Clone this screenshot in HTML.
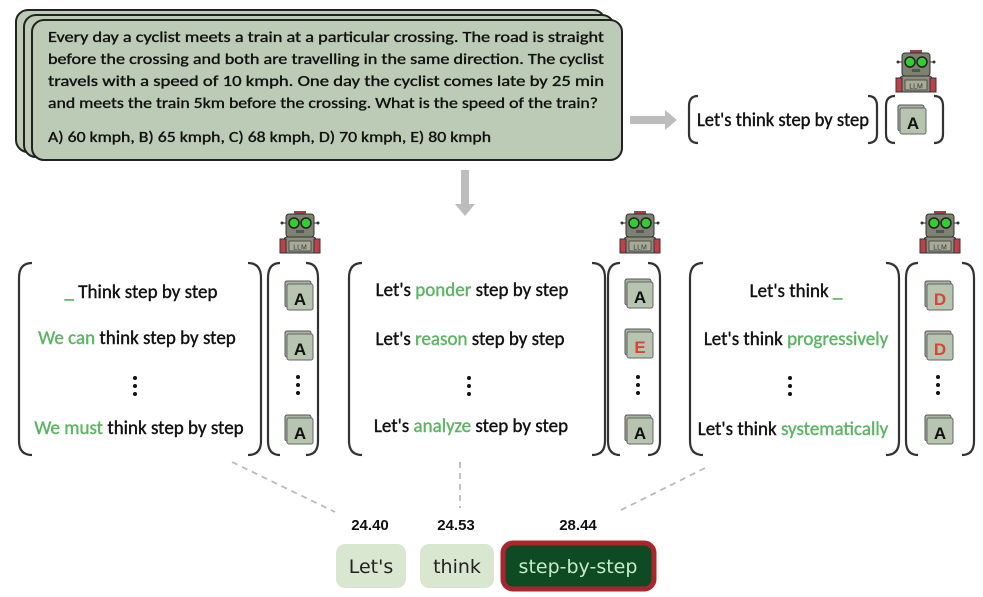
<!DOCTYPE html>
<html><head><meta charset="utf-8"><style>
html,body{margin:0;padding:0;background:#fff;}
svg{display:block;}
.q{font-family:"Carlito","Liberation Sans",sans-serif;font-size:15px;fill:#111;stroke:#111;stroke-width:0.35;}
.t{font-family:"Carlito","Liberation Sans",sans-serif;font-size:19px;fill:#111;stroke:#111;stroke-width:0.4;}
.g{fill:#5cb563;stroke:#5cb563;}
.al{font-family:"Liberation Sans",sans-serif;font-size:17px;font-weight:bold;fill:#111;}
.ar{fill:#d8443a;}
.n{font-family:"Liberation Sans",sans-serif;font-size:15px;font-weight:bold;fill:#111;}
.w{font-family:"DejaVu Sans",sans-serif;font-size:19px;}
</style></head><body>
<svg width="983" height="597" viewBox="0 0 983 597" xmlns="http://www.w3.org/2000/svg">
<defs>
  <g id="robot">
    <rect x="-16" y="26" width="32" height="16" rx="3" fill="#8e8e80" stroke="#333" stroke-width="1"/>
    <rect x="-20" y="28" width="6" height="14" fill="#c0404a" stroke="#333" stroke-width="1"/>
    <rect x="14" y="28" width="6" height="14" fill="#c0404a" stroke="#333" stroke-width="1"/>
    <rect x="-11" y="30" width="22" height="10" fill="#a7ab98" stroke="#333" stroke-width="0.7"/>
    <text x="0" y="38.5" font-family="Liberation Sans,sans-serif" font-size="7" text-anchor="middle" fill="#333">LLM</text>
    <rect x="-6" y="0" width="12" height="4" fill="#a04048"/>
    <rect x="-14" y="3" width="28" height="23" rx="3" fill="#7d8270" stroke="#333" stroke-width="1"/>
    <line x1="-18" y1="12" x2="-14" y2="12" stroke="#333"/><circle cx="-18" cy="12" r="1.5" fill="#333"/>
    <line x1="14" y1="12" x2="18" y2="12" stroke="#333"/><circle cx="18" cy="12" r="1.5" fill="#333"/>
    <circle cx="-6" cy="12" r="5" fill="#3c3" stroke="#222" stroke-width="1.5"/>
    <circle cx="6" cy="12" r="5" fill="#3c3" stroke="#222" stroke-width="1.5"/>
    <rect x="-4" y="19" width="8" height="3" fill="#555"/>
  </g>
  <g id="abox">
    <rect x="-15" y="-15" width="26" height="26" rx="2" fill="#a7b4a0" stroke="#555" stroke-width="1"/>
    <rect x="-13" y="-12" width="26" height="26" rx="2" fill="#b7c5b0" stroke="#666" stroke-width="1"/>
  </g>
</defs>

<rect x="16" y="10" width="589" height="142" rx="12" fill="#bccbb5" stroke="#222" stroke-width="2"/>
<rect x="24" y="15" width="590" height="142" rx="12" fill="#bccbb5" stroke="#222" stroke-width="2"/>
<rect x="32" y="20" width="590" height="140" rx="12" fill="#bccbb5" stroke="#222" stroke-width="2"/>
<text class="q" x="48" y="42" textLength="556" lengthAdjust="spacingAndGlyphs">Every day a cyclist meets a train at a particular crossing. The road is straight</text>
<text class="q" x="48" y="64" textLength="556" lengthAdjust="spacingAndGlyphs">before the crossing and both are travelling in the same direction. The cyclist</text>
<text class="q" x="48" y="86" textLength="556" lengthAdjust="spacingAndGlyphs">travels with a speed of 10 kmph. One day the cyclist comes late by 25 min</text>
<text class="q" x="48" y="108" textLength="550" lengthAdjust="spacingAndGlyphs">and meets the train 5km before the crossing. What is the speed of the train?</text>
<text class="q" x="48" y="142" textLength="443" lengthAdjust="spacingAndGlyphs">A) 60 kmph, B) 65 kmph, C) 68 kmph, D) 70 kmph, E) 80 kmph</text>

<polygon points="630,116 665,116 665,110 677,120 665,130 665,124 630,124" fill="#bdbdbd"/>
<polygon points="461,170 469,170 469,204 475,204 465,216 455,204 461,204" fill="#bdbdbd"/>

<g fill="none" stroke="#333" stroke-width="2.2">
  <path d="M698,96 Q689,96 689,106 V134 Q689,143 698,143"/>
  <path d="M868,96 Q877,96 877,106 V134 Q877,143 868,143"/>
  <path d="M895,96 Q886,96 886,106 V134 Q886,143 895,143"/>
  <path d="M934,96 Q943,96 943,106 V134 Q943,143 934,143"/>
  <path d="M32,263 Q19,263 19,278 V441 Q19,455 32,455"/>
  <path d="M248,263 Q261,263 261,278 V441 Q261,455 248,455"/>
  <path d="M280,263 Q268,263 268,278 V441 Q268,455 280,455"/>
  <path d="M306,263 Q318,263 318,278 V441 Q318,455 306,455"/>
  <path d="M362,263 Q349,263 349,278 V441 Q349,455 362,455"/>
  <path d="M592,263 Q605,263 605,278 V441 Q605,455 592,455"/>
  <path d="M620,263 Q608,263 608,278 V441 Q608,455 620,455"/>
  <path d="M648,263 Q660,263 660,278 V441 Q660,455 648,455"/>
  <path d="M703,263 Q690,263 690,278 V441 Q690,455 703,455"/>
  <path d="M886,263 Q899,263 899,278 V441 Q899,455 886,455"/>
  <path d="M918,263 Q906,263 906,278 V441 Q906,455 918,455"/>
  <path d="M962,263 Q974,263 974,278 V441 Q974,455 962,455"/>
</g>

<use href="#robot" x="916" y="50"/>
<use href="#robot" x="300" y="211"/>
<use href="#robot" x="640" y="211"/>
<use href="#robot" x="940" y="211"/>

<text class="t" x="697" y="126" textLength="172" lengthAdjust="spacingAndGlyphs">Let's think step by step</text>
<use href="#abox" x="913" y="120"/><text class="al" x="913" y="129" text-anchor="middle">A</text>

<text class="t" x="141" y="298" text-anchor="middle"><tspan class="g">_</tspan> Think step by step</text>
<text class="t" x="137" y="344" text-anchor="middle"><tspan class="g">We can</tspan> think step by step</text>
<text class="t" x="139" y="434" text-anchor="middle"><tspan class="g">We must</tspan> think step by step</text>
<g fill="#111"><circle cx="135" cy="378" r="2"/><circle cx="135" cy="386" r="2"/><circle cx="135" cy="394" r="2"/></g>
<use href="#abox" x="300" y="296"/><text class="al" x="300" y="305" text-anchor="middle">A</text>
<use href="#abox" x="300" y="346"/><text class="al" x="300" y="355" text-anchor="middle">A</text>
<g fill="#111"><circle cx="298" cy="377" r="2"/><circle cx="298" cy="385" r="2"/><circle cx="298" cy="393" r="2"/></g>
<use href="#abox" x="300" y="430"/><text class="al" x="300" y="439" text-anchor="middle">A</text>

<text class="t" x="472" y="296" text-anchor="middle">Let's <tspan class="g">ponder</tspan> step by step</text>
<text class="t" x="470" y="345" text-anchor="middle">Let's <tspan class="g">reason</tspan> step by step</text>
<text class="t" x="471" y="432" text-anchor="middle">Let's <tspan class="g">analyze</tspan> step by step</text>
<g fill="#111"><circle cx="469" cy="378" r="2"/><circle cx="469" cy="386" r="2"/><circle cx="469" cy="394" r="2"/></g>
<use href="#abox" x="640" y="294"/><text class="al" x="640" y="303" text-anchor="middle">A</text>
<use href="#abox" x="640" y="344"/><text class="al ar" x="640" y="353" text-anchor="middle">E</text>
<g fill="#111"><circle cx="638" cy="377" r="2"/><circle cx="638" cy="385" r="2"/><circle cx="638" cy="393" r="2"/></g>
<use href="#abox" x="640" y="430"/><text class="al" x="640" y="439" text-anchor="middle">A</text>

<text class="t" x="796" y="297" text-anchor="middle">Let's think <tspan class="g">_</tspan></text>
<text class="t" x="796" y="345" text-anchor="middle">Let's think <tspan class="g">progressively</tspan></text>
<text class="t" x="793" y="435" text-anchor="middle">Let's think <tspan class="g">systematically</tspan></text>
<g fill="#111"><circle cx="790" cy="378" r="2"/><circle cx="790" cy="386" r="2"/><circle cx="790" cy="394" r="2"/></g>
<use href="#abox" x="940" y="296"/><text class="al ar" x="940" y="305" text-anchor="middle">D</text>
<use href="#abox" x="940" y="346"/><text class="al ar" x="940" y="355" text-anchor="middle">D</text>
<g fill="#111"><circle cx="938" cy="377" r="2"/><circle cx="938" cy="385" r="2"/><circle cx="938" cy="393" r="2"/></g>
<use href="#abox" x="940" y="430"/><text class="al" x="940" y="439" text-anchor="middle">A</text>

<g stroke="#bbb" stroke-width="1.8" stroke-dasharray="6,5" fill="none">
  <line x1="232" y1="462" x2="335" y2="512"/>
  <line x1="460" y1="462" x2="460" y2="508"/>
  <line x1="705" y1="468" x2="617" y2="512"/>
</g>

<text class="n" x="370" y="530" text-anchor="middle">24.40</text>
<text class="n" x="456" y="530" text-anchor="middle">24.53</text>
<text class="n" x="578" y="530" text-anchor="middle">28.44</text>
<rect x="336" y="544" width="70" height="44" rx="9" fill="#d9e6d0"/>
<text class="w" x="371" y="573" text-anchor="middle" fill="#222">Let's</text>
<rect x="420" y="544" width="74" height="44" rx="9" fill="#d9e6d0"/>
<text class="w" x="457" y="573" text-anchor="middle" fill="#222">think</text>
<rect x="503" y="543" width="151" height="46" rx="10" fill="#0e4a24" stroke="#a9262c" stroke-width="5"/>
<text class="w" x="578" y="573" text-anchor="middle" fill="#c8eccb">step-by-step</text>
</svg>
</body></html>
